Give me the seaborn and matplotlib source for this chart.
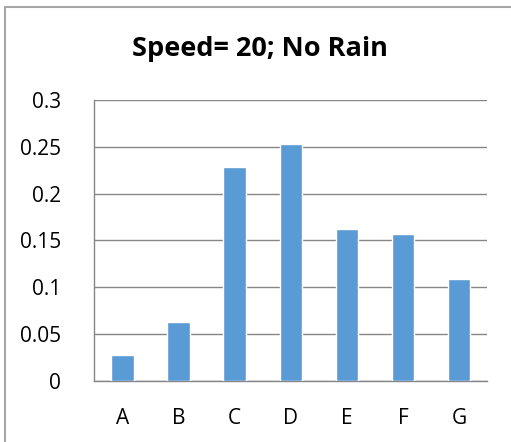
import pandas as pd
import seaborn as sns
import matplotlib.pyplot as plt
from matplotlib.lines import Line2D

sns.set_style("white")
plt.rcParams['font.family'] = ['Open Sans', 'DejaVu Sans']
plt.rcParams['text.color'] = 'black'
plt.rcParams['xtick.color'] = 'black'
plt.rcParams['ytick.color'] = 'black'

categories = ['A', 'B', 'C', 'D', 'E', 'F', 'G']
values = [0.027, 0.063, 0.228, 0.253, 0.162, 0.157, 0.109]
y_ticks = [0, 0.05, 0.1, 0.15, 0.2, 0.25, 0.3]
y_labels = ['0', '0.05', '0.1', '0.15', '0.2', '0.25', '0.3']

df = pd.DataFrame({'cat': categories, 'val': values})

fig = plt.figure(figsize=(5.11, 4.42), dpi=100)
ax = fig.add_axes([0.1845, 0.1387, 0.7691, 0.6351])

sns.barplot(data=df, x='cat', y='val', color='#5B9BD5', width=0.4,
            saturation=1, ax=ax, zorder=3)

ax.set_ylim(0, 0.3)
ax.set_xlim(-0.5, 6.5)
ax.set_yticks(y_ticks)
ax.set_yticklabels(y_labels)
ax.yaxis.grid(True, color='#868686', linewidth=1, zorder=0)
ax.set_axisbelow(True)
ax.set_xlabel('')
ax.set_ylabel('')
ax.tick_params(axis='y', length=0, pad=24, labelsize=15, labelcolor='black')
ax.tick_params(axis='x', length=0, pad=20, labelsize=15, labelcolor='black')
for s in ['top', 'right']:
    ax.spines[s].set_visible(False)
for s in ['left', 'bottom']:
    ax.spines[s].set_color('#868686')
    ax.spines[s].set_linewidth(1)

fig.suptitle('Speed= 20; No Rain', x=0.509, y=0.889, va='center',
             fontsize=19.5, fontweight='bold', color='black')

# chart frame (top and left edges visible in the crop)
fig.add_artist(Line2D([0.009, 0.009], [0, 0.985], transform=fig.transFigure,
                      color='#A6A6A6', linewidth=1.5))
fig.add_artist(Line2D([0.009, 1], [0.985, 0.985], transform=fig.transFigure,
                      color='#A6A6A6', linewidth=1.5))

fig.savefig('out.png', dpi=100)
